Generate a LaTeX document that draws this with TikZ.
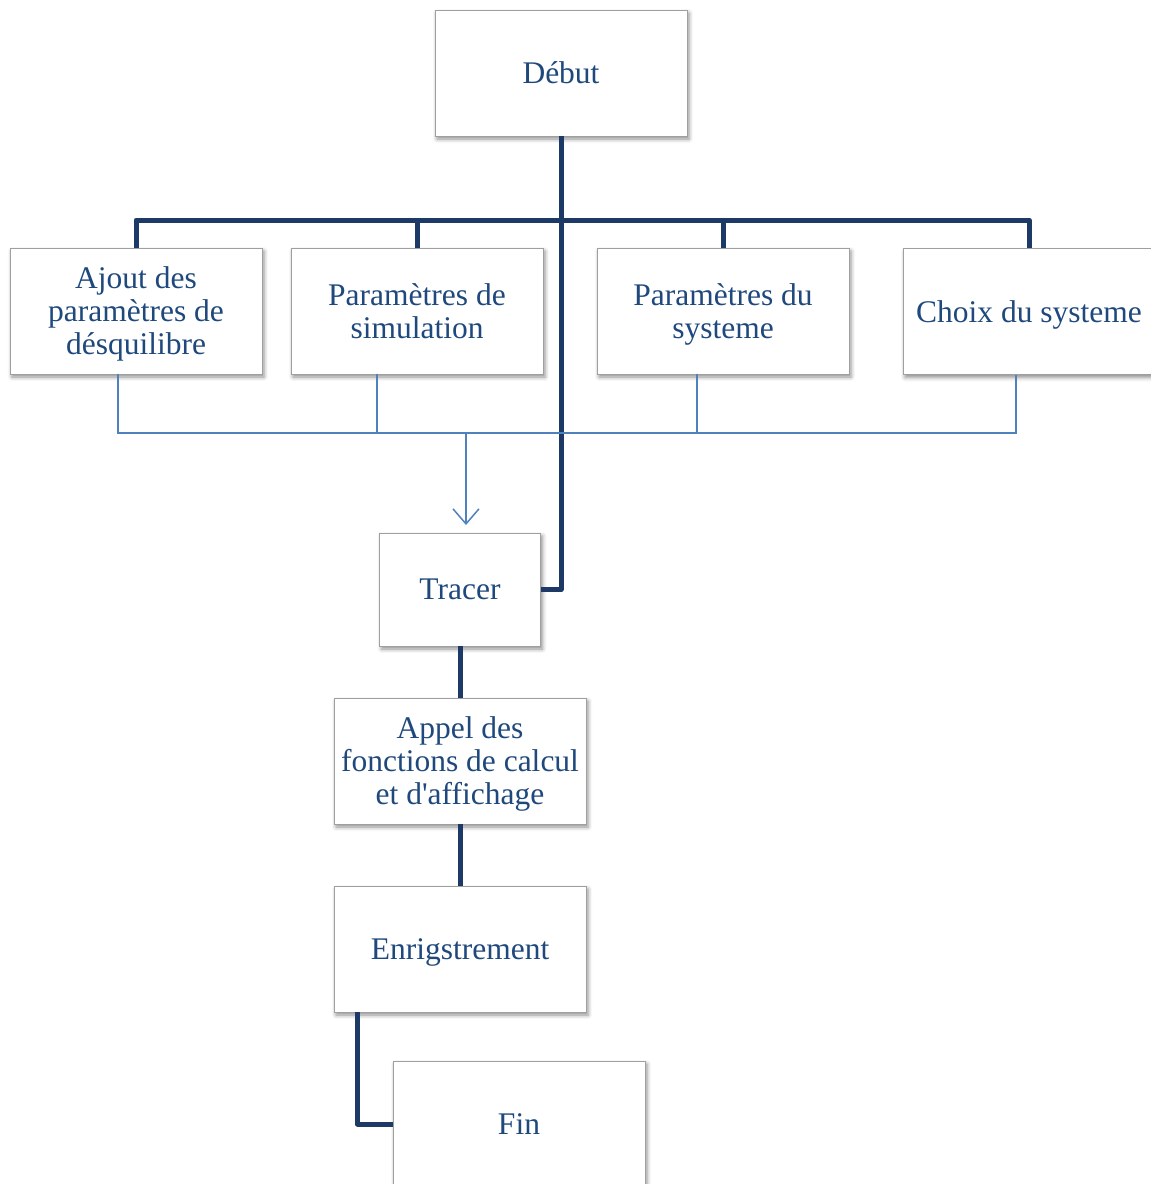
\documentclass[tikz,border=0pt]{standalone}
\usepackage{fontspec}
\newfontfamily\tnr{Liberation Serif}
\usetikzlibrary{arrows.meta,shadows.blur,calc}
\definecolor{txtblue}{RGB}{31,73,125}
\definecolor{navy}{RGB}{29,58,102}
\definecolor{lightblue}{RGB}{79,129,189}
\begin{document}
\begin{tikzpicture}[x=1pt,y=-1pt,
  box/.style={draw=gray!75, line width=0.8pt, fill=white, align=center,
    text=txtblue, font=\tnr\fontsize{31.5}{33}\selectfont, text depth=0pt,
    minimum width=252pt, minimum height=126pt, inner sep=2pt,
    blur shadow={shadow xshift=2pt, shadow yshift=-3pt, shadow blur radius=4pt, shadow opacity=45}},
  thickline/.style={draw=navy, line width=5pt, line join=round},
  thinline/.style={draw=lightblue, line width=1.5pt}]
\useasboundingbox (0,0) rectangle (1151,1184);
\clip (0,0) rectangle (1151,1184);
\node[box] (debut) at (561,73) {Début};
\node[box] (ajout) at (136,311) {Ajout des\\paramètres de\\désquilibre};
\node[box] (sim) at (417,311) {Paramètres de\\simulation};
\node[box] (sys) at (723,311) {Paramètres du\\systeme};
\node[box] (choix) at (1029,311.5) {Choix du systeme};
\node[box, minimum width=161pt, minimum height=113pt] (tracer) at (460,589.5) {Tracer};
\node[box] (appel) at (460,761) {Appel des\\fonctions de calcul\\et d'affichage};
\node[box] (enr) at (460,949) {Enrigstrement};
\node[box] (fin) at (519,1124) {Fin};
\coordinate (bus) at (561,220);
\coordinate (tbus) at (466,433);
\coordinate (tip) at (466,525);
% thick connectors
\draw[thickline] (debut.south) |- (tracer.east);
\draw[thickline] (ajout.north) |- (bus) -| (choix.north);
\draw[thickline] (sim.north) -- (sim.north |- bus);
\draw[thickline] (sys.north) -- (sys.north |- bus);
\draw[thickline] (tracer.south) -- (appel.north);
\draw[thickline] (appel.south) -- (enr.north);
\draw[thickline] ([xshift=24pt]enr.south west) |- (fin.west);
% thin connectors
\draw[thinline] ([xshift=-18pt]ajout.south) |- (tbus) -| ([xshift=-13pt]choix.south);
\draw[thinline] ([xshift=-40pt]sim.south) -- ([xshift=-40pt]sim.south |- tbus);
\draw[thinline] ([xshift=-26pt]sys.south) -- ([xshift=-26pt]sys.south |- tbus);
\draw[thinline, -{Straight Barb[length=15pt,width=26pt,line width=1.5pt]}] (tbus) -- (tip);
\end{tikzpicture}
\end{document}
